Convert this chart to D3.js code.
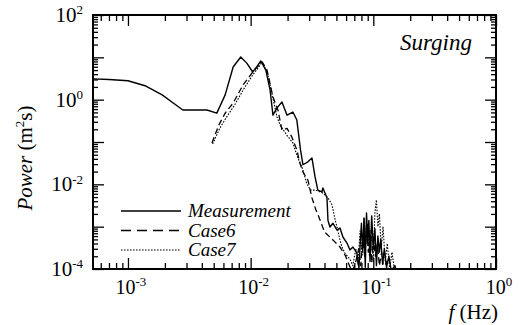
<!DOCTYPE html>
<html>
<head>
<meta charset="utf-8">
<script src="https://cdn.jsdelivr.net/npm/d3@7"></script>
<style>
  body { margin: 0; background: #fff; }
  svg { display: block; }
  .domain { display: none; }
</style>
</head>
<body>
<svg width="524" height="325"></svg>
<script>
"use strict";

// spectra: frequency (Hz) and power (m^2 s)
const measFreq = [5.2e-4, 7e-4, 1e-3, 1.4e-3, 1.9e-3, 2.4e-3, 2.8e-3, 3.5e-3, 4.4e-3, 5.3e-3,
  6.2e-3, 7.2e-3, 8.3e-3, 9.3e-3, 1.04e-2, 1.13e-2, 1.21e-2, 1.33e-2, 1.44e-2, 1.52e-2,
  1.64e-2, 1.8e-2, 1.98e-2, 2.21e-2, 2.38e-2, 2.55e-2, 2.67e-2, 2.93e-2, 3.16e-2, 3.35e-2,
  3.53e-2, 3.81e-2, 3.88e-2, 4.19e-2, 4.27e-2, 4.43e-2, 4.69e-2, 5.06e-2, 5.35e-2, 5.65e-2,
  6.1e-2, 6.45e-2, 6.82e-2, 7.35e-2, 7.63e-2, 0.078, 0.080, 0.082, 0.084, 0.086,
  0.088, 0.090, 0.092, 0.094, 0.097, 0.100, 0.103, 0.106, 0.109, 0.112,
  0.115, 0.119, 0.123, 0.128, 0.134, 0.14, 0.15, 0.155];
const measPower = [3.1, 3.0, 2.8, 2.1, 1.3, 0.79, 0.57, 0.57, 0.57, 0.48,
  1.3, 5.9, 10.2, 7.3, 4.5, 6.2, 8.2, 5.0, 1.7, 0.43,
  0.64, 0.88, 0.43, 0.51, 0.33, 0.065, 0.029, 0.034, 0.042, 0.015,
  0.0073, 0.0066, 0.0082, 0.0048, 0.0014, 0.00098, 0.0012, 0.00083, 0.00093, 0.00057,
  0.00041, 0.00028, 0.00033, 0.00024, 0.000105, 3.5e-4, 1.2e-3, 2.5e-4, 1.6e-3, 1.1e-4,
  2.1e-3, 5e-4, 1.4e-3, 1.5e-4, 1.8e-3, 3e-4, 9e-4, 1.2e-4, 6e-4, 2.5e-4,
  5e-4, 1.3e-4, 3e-4, 1.1e-4, 2e-4, 0.9e-4, 1.2e-4, 0.8e-4];

const case6Freq = [4.84e-3, 5.5e-3, 6.2e-3, 7.2e-3, 8.65e-3, 1.04e-2, 1.15e-2, 1.24e-2, 1.36e-2, 1.52e-2,
  1.67e-2, 1.8e-2, 1.98e-2, 2.17e-2, 2.38e-2, 2.52e-2, 2.67e-2, 2.93e-2, 3.16e-2, 3.4e-2,
  3.6e-2, 4.0e-2, 4.7e-2, 5.35e-2, 5.9e-2, 6.45e-2, 6.8e-2, 0.072, 0.076, 0.079,
  0.082, 0.085, 0.088, 0.091, 0.094, 0.097, 0.100, 0.104, 0.108, 0.112,
  0.117, 0.122, 0.128, 0.135];
const case6Power = [0.095, 0.25, 0.48, 0.83, 2.2, 4.5, 6.2, 7.8, 5.0, 1.16,
  0.57, 0.19, 0.21, 0.13, 0.065, 0.032, 0.0195, 0.0126, 0.0048, 0.0025,
  0.0017, 0.00075, 0.00048, 0.00033, 0.00021, 0.000112, 0.00009, 1.5e-4, 3e-4, 1.2e-4,
  6e-4, 2e-4, 1.0e-3, 2.5e-4, 8e-4, 1.4e-4, 5e-4, 2e-4, 4e-4, 1.2e-4,
  2.5e-4, 0.9e-4, 1.5e-4, 0.8e-4];

const case7Freq = [4.9e-3, 5.6e-3, 6.3e-3, 7.4e-3, 8.9e-3, 1.05e-2, 1.15e-2, 1.24e-2, 1.37e-2, 1.5e-2,
  1.64e-2, 1.74e-2, 1.97e-2, 2.21e-2, 2.38e-2, 2.67e-2, 2.85e-2, 3.07e-2, 3.4e-2, 3.88e-2,
  4.27e-2, 4.6e-2, 4.9e-2, 5.06e-2, 5.35e-2, 5.55e-2, 5.9e-2, 6.45e-2, 0.068, 0.072,
  0.075, 0.078, 0.081, 0.084, 0.087, 0.090, 0.093, 0.097, 0.100, 0.103,
  0.106, 0.109, 0.112, 0.116, 0.120, 0.125, 0.130, 0.136, 0.142, 0.150];
const case7Power = [0.09, 0.21, 0.37, 0.75, 1.9, 4.0, 5.6, 7.8, 4.3, 1.3,
  0.39, 0.25, 0.146, 0.095, 0.049, 0.022, 0.011, 0.0073, 0.0073, 0.0062,
  0.0048, 0.0033, 0.0014, 0.00098, 0.00048, 0.00033, 0.00023, 0.00017, 1.2e-4, 3e-4,
  1.3e-4, 8e-4, 2e-4, 1.6e-3, 4e-4, 1.2e-3, 2e-4, 6e-4, 1.5e-4, 2.2e-3,
  4.3e-3, 1.0e-3, 2e-3, 3e-4, 1e-3, 1.5e-4, 4e-4, 1e-4, 2.5e-4, 0.8e-4];

const seriesNames = ["Measurement", "Case6", "Case7"];
const xMajor = [1e-3, 1e-2, 1e-1, 1];
const xLabelExp = ["-3", "-2", "-1", "0"];
const yMajor = [1e-4, 1e-3, 1e-2, 1e-1, 1, 10, 100];
const yLabelled = [1e-4, 1e-2, 1, 100];
const yLabelExp = ["-4", "-2", "0", "2"];

const serif = "'Liberation Serif'";
const svg = d3.select("svg");
const margin = { left: 93, right: 28, top: 15, bottom: 56 };
const width = +svg.attr("width");
const height = +svg.attr("height");
const plotW = width - margin.left - margin.right;
const plotH = height - margin.top - margin.bottom;

const x = d3.scaleLog().domain([Math.pow(10, -3.285), 1]).range([0, plotW]);
const y = d3.scaleLog().domain([1e-4, 100]).range([plotH, 0]);

const g = svg.append("g").attr("transform", `translate(${margin.left},${margin.top})`);

g.append("clipPath").attr("id", "clip")
  .append("rect").attr("width", plotW).attr("height", plotH);

const line = d3.line().x(d => x(d[0])).y(d => y(d[1]));

const styles = [
  { dash: null, w: 1.4 },
  { dash: "6,3.5", w: 1.3 },
  { dash: "1.6,1.4", w: 1.1 }
];
const series = [
  d3.zip(measFreq, measPower),
  d3.zip(case6Freq, case6Power),
  d3.zip(case7Freq, case7Power)
];

g.append("g").attr("clip-path", "url(#clip)")
  .selectAll("path")
  .data(series)
  .join("path")
  .attr("d", line)
  .attr("fill", "none")
  .attr("stroke", "#000")
  .attr("stroke-width", (d, i) => styles[i].w)
  .attr("stroke-dasharray", (d, i) => styles[i].dash)
  .attr("stroke-linejoin", "round");

// minor ticks (inward, all four sides)
const xMinor = x.ticks().filter(v => !xMajor.some(m => Math.abs(m - v) / m < 1e-9));
const yMinor = y.ticks().filter(v => !yMajor.some(m => Math.abs(m - v) / m < 1e-9));

const tickStyle = sel => sel.selectAll(".tick line").attr("stroke", "#000").attr("stroke-width", 1.3);

g.append("g").attr("transform", `translate(0,${plotH})`)
  .call(d3.axisBottom(x).tickValues(xMinor).tickSize(-6).tickFormat(""))
  .call(tickStyle);
g.append("g")
  .call(d3.axisTop(x).tickValues(xMinor).tickSize(-6).tickFormat(""))
  .call(tickStyle);
g.append("g")
  .call(d3.axisLeft(y).tickValues(yMinor).tickSize(-5).tickFormat(""))
  .call(tickStyle);
g.append("g").attr("transform", `translate(${plotW},0)`)
  .call(d3.axisRight(y).tickValues(yMinor).tickSize(-5).tickFormat(""))
  .call(tickStyle);

// major ticks
g.append("g").attr("transform", `translate(0,${plotH})`)
  .call(d3.axisBottom(x).tickValues(xMajor).tickSize(-11).tickFormat(""))
  .call(tickStyle);
g.append("g")
  .call(d3.axisTop(x).tickValues(xMajor).tickSize(-11).tickFormat(""))
  .call(tickStyle);
g.append("g")
  .call(d3.axisLeft(y).tickValues(yMajor).tickSize(-11).tickFormat(""))
  .call(tickStyle);
g.append("g").attr("transform", `translate(${plotW},0)`)
  .call(d3.axisRight(y).tickValues(yMajor).tickSize(-11).tickFormat(""))
  .call(tickStyle);

// power-of-ten labels
const powLabel = (sel, exp) => {
  sel.append("tspan").text("10");
  sel.append("tspan").style("font-size", "13px").attr("dy", "-0.6em").text(exp);
};

xMajor.forEach((v, i) => {
  const t = g.append("text")
    .attr("x", x(v) + 3)
    .attr("y", plotH + 25)
    .attr("text-anchor", "middle")
    .style("font-family", serif)
    .style("font-size", "20px");
  powLabel(t, xLabelExp[i]);
});

yLabelled.forEach((v, i) => {
  const t = g.append("text")
    .attr("x", -10)
    .attr("y", y(v) + 7)
    .attr("text-anchor", "end")
    .style("font-family", serif)
    .style("font-size", "21px");
  powLabel(t, yLabelExp[i]);
});

// frame
g.append("rect")
  .attr("width", plotW)
  .attr("height", plotH)
  .attr("fill", "none")
  .attr("stroke", "#000")
  .attr("stroke-width", 2);

// axis titles
const xt = svg.append("text")
  .attr("x", margin.left + plotW + 2)
  .attr("y", 319)
  .attr("text-anchor", "end")
  .style("font-family", serif)
  .style("font-size", "21px");
xt.append("tspan").style("font-style", "italic").text("f");
xt.append("tspan").text(" (Hz)");

const yt = svg.append("text")
  .attr("transform", "translate(32,158) rotate(-90)")
  .attr("text-anchor", "middle")
  .style("font-family", serif)
  .style("font-size", "21px");
yt.append("tspan").style("font-style", "italic").text("Power");
yt.append("tspan").text(" (m");
yt.append("tspan").style("font-size", "13px").attr("dy", "-0.6em").text("2");
yt.append("tspan").attr("dy", "0.38em").text("s)");

svg.append("text")
  .attr("x", 472)
  .attr("y", 50)
  .attr("text-anchor", "end")
  .style("font-family", serif)
  .style("font-size", "23px")
  .style("font-style", "italic")
  .text("Surging");

// legend
const legend = svg.append("g").attr("transform", "translate(121,211)");
const legendRow = legend.selectAll("g")
  .data(seriesNames)
  .join("g")
  .attr("transform", (d, i) => `translate(0,${i * 19.5})`);
legendRow.append("line")
  .attr("x1", 0).attr("x2", 60)
  .attr("stroke", "#000")
  .attr("stroke-width", (d, i) => styles[i].w)
  .attr("stroke-dasharray", (d, i) => i === 1 ? "10,6" : styles[i].dash);
legendRow.append("text")
  .attr("x", 67)
  .attr("y", 6)
  .style("font-family", serif)
  .style("font-size", "19px")
  .style("font-style", "italic")
  .text(d => d);
</script>
</body>
</html>
